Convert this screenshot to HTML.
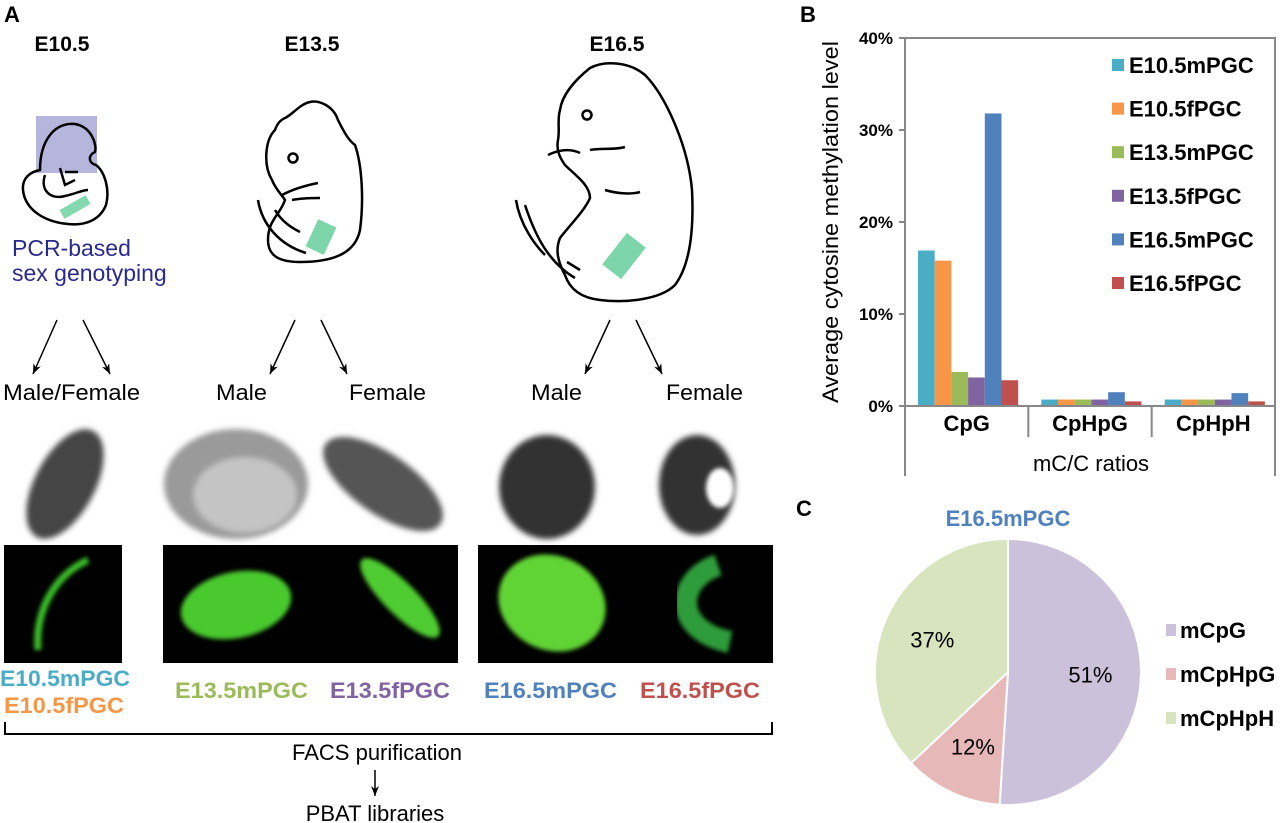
<!DOCTYPE html>
<html><head><meta charset="utf-8"><style>
body{margin:0;background:#fff;width:1280px;height:823px;overflow:hidden;font-family:"Liberation Sans",Arial,sans-serif}
svg{position:absolute;left:0;top:0}
</style></head><body>
<svg width="1280" height="823" viewBox="0 0 1280 823" font-family="Liberation Sans, Arial, sans-serif">
<defs>
<filter id="bl" x="-20%" y="-20%" width="140%" height="140%"><feGaussianBlur stdDeviation="3"/></filter>
<filter id="bl2" x="-20%" y="-20%" width="140%" height="140%"><feGaussianBlur stdDeviation="2"/></filter>
<marker id="ah" markerWidth="10" markerHeight="8" refX="10" refY="4" orient="auto" markerUnits="userSpaceOnUse"><path d="M0,0 L10,4 L0,8 L3,4z" fill="#000"/></marker>
</defs>
<!-- Panel A -->
<g>
<text x="4" y="22" font-size="22" font-weight="bold">A</text>
<text x="62" y="51" font-size="21" font-weight="bold" text-anchor="middle">E10.5</text>
<text x="312" y="51" font-size="21" font-weight="bold" text-anchor="middle">E13.5</text>
<text x="617" y="51" font-size="21" font-weight="bold" text-anchor="middle">E16.5</text>
<g>
<rect x="36" y="116" width="61" height="57" fill="#a9a9d6" opacity="0.85"/>
<path d="M40,170 C40,140 55,122 75,124 C92,127 97,145 95,152 C88,155 88,163 96,165 C105,172 110,190 106,205 C100,220 85,226 68,224 C45,222 25,210 23,190 C22,178 30,172 40,170 Z" fill="none" stroke="#000" stroke-width="2.5"/>
<path d="M45,175 C40,190 50,200 65,196 C75,194 82,190 88,190 M60,168 L65,185 L75,180 M65,172 L78,172" fill="none" stroke="#000" stroke-width="2.5"/>
<rect x="60" y="202" width="30" height="10" fill="#6fd1a0" transform="rotate(-30 75 207)" opacity="0.85"/>
</g>
<text x="12" y="256" font-size="23" fill="#2a2a8c">PCR-based</text>
<text x="12" y="281" font-size="23" fill="#2a2a8c">sex genotyping</text>
<g>
<path d="M275,130 C265,140 263,165 272,180 C276,190 282,195 285,200 C280,215 268,220 268,240 C268,255 278,262 300,262 C330,262 355,255 360,230 C364,200 362,165 355,145 C348,140 343,130 338,120 C333,105 318,100 310,102 C300,104 292,115 285,118 C280,120 277,124 275,130 Z" fill="none" stroke="#000" stroke-width="2.5"/>
<circle cx="293" cy="158" r="4.5" fill="none" stroke="#000" stroke-width="2.5"/>
<path d="M258,200 C262,225 280,245 306,253 M275,210 C282,222 292,228 300,232 M282,195 C295,188 308,185 318,183 M292,200 C302,198 312,198 320,198" fill="none" stroke="#000" stroke-width="2.5"/>
<rect x="311" y="222" width="20" height="30" fill="#6fd1a0" transform="rotate(25 321 237)" opacity="0.9"/>
</g>
<g>
<path d="M560,110 C562,95 575,80 590,68 C605,60 630,62 645,75 C665,95 688,145 692,190 C694,230 690,265 675,285 C660,300 625,303 600,300 C582,298 570,290 565,275 C558,262 555,250 560,238 C570,225 585,210 590,198 C590,185 575,175 565,165 C560,158 556,150 558,140 C560,130 557,120 560,110 Z" fill="none" stroke="#000" stroke-width="2.5"/>
<circle cx="587" cy="115" r="4.5" fill="none" stroke="#000" stroke-width="2.5"/>
<path d="M548,155 C558,150 570,148 580,153 M590,150 C600,148 615,150 625,147 M605,190 C615,193 630,195 640,192 M516,200 C520,225 535,245 545,255 M525,205 C535,235 548,262 575,278 M567,262 L580,270" fill="none" stroke="#000" stroke-width="2.5"/>
<rect x="604" y="244" width="40" height="24" fill="#6fd1a0" transform="rotate(-52 624 256)" opacity="0.9"/>
</g>
<g stroke="#000" stroke-width="1.5" fill="none">
<line x1="57" y1="320" x2="33" y2="374" marker-end="url(#ah)"/>
<line x1="83" y1="320" x2="110" y2="374" marker-end="url(#ah)"/>
<line x1="295" y1="320" x2="270" y2="374" marker-end="url(#ah)"/>
<line x1="321" y1="320" x2="347" y2="374" marker-end="url(#ah)"/>
<line x1="610" y1="320" x2="585" y2="374" marker-end="url(#ah)"/>
<line x1="636" y1="320" x2="662" y2="374" marker-end="url(#ah)"/>
</g>
<g font-size="22">
<text x="3" y="400" textLength="137" lengthAdjust="spacingAndGlyphs">Male/Female</text>
<text x="216" y="400" textLength="51" lengthAdjust="spacingAndGlyphs">Male</text>
<text x="349" y="400" textLength="77" lengthAdjust="spacingAndGlyphs">Female</text>
<text x="531" y="400" textLength="51" lengthAdjust="spacingAndGlyphs">Male</text>
<text x="666" y="400" textLength="77" lengthAdjust="spacingAndGlyphs">Female</text>
</g>
<g>
<ellipse cx="65" cy="484" rx="30" ry="60" fill="#444" transform="rotate(28 65 484)" filter="url(#bl)"/>
<ellipse cx="236" cy="484" rx="72" ry="55" fill="#9a9a9a" filter="url(#bl)"/>
<ellipse cx="245" cy="495" rx="52" ry="38" fill="#c4c4c4" filter="url(#bl)"/>
<ellipse cx="383" cy="484" rx="30" ry="70" fill="#555" transform="rotate(-55 383 484)" filter="url(#bl)"/>
<ellipse cx="547" cy="487" rx="48" ry="52" fill="#333" filter="url(#bl)"/>
<ellipse cx="697" cy="485" rx="38" ry="50" fill="#333" filter="url(#bl)"/>
<ellipse cx="720" cy="488" rx="14" ry="20" fill="#fff" filter="url(#bl2)"/>
</g>
<g>
<rect x="4" y="545" width="118" height="118" fill="#000"/>
<rect x="163" y="545" width="295" height="118" fill="#000"/>
<rect x="478" y="545" width="295" height="118" fill="#000"/>
<path d="M38,650 C35,610 55,575 88,560" stroke="#3bbf2a" stroke-width="7" fill="none" filter="url(#bl2)"/>
<ellipse cx="236" cy="605" rx="56" ry="33" fill="#48c92e" transform="rotate(-12 236 605)" filter="url(#bl2)"/>
<ellipse cx="400" cy="598" rx="16" ry="54" fill="#50cc32" transform="rotate(-45 400 598)" filter="url(#bl2)"/>
<ellipse cx="552" cy="603" rx="55" ry="47" fill="#60d435" transform="rotate(25 552 603)" filter="url(#bl2)"/>
<path d="M718,565 C675,580 672,630 730,642" stroke="#2f9c3a" stroke-width="22" fill="none" filter="url(#bl2)"/>
</g>
<g font-size="22" font-weight="bold">
<text x="0" y="686" fill="#4bacc6" textLength="130" lengthAdjust="spacingAndGlyphs">E10.5mPGC</text>
<text x="4" y="713" fill="#f79646" textLength="120" lengthAdjust="spacingAndGlyphs">E10.5fPGC</text>
<text x="175" y="698" fill="#9bbb59" textLength="133" lengthAdjust="spacingAndGlyphs">E13.5mPGC</text>
<text x="330" y="698" fill="#8064a2" textLength="120" lengthAdjust="spacingAndGlyphs">E13.5fPGC</text>
<text x="484" y="698" fill="#4f81bd" textLength="133" lengthAdjust="spacingAndGlyphs">E16.5mPGC</text>
<text x="640" y="698" fill="#c0504d" textLength="120" lengthAdjust="spacingAndGlyphs">E16.5fPGC</text>
</g>
<path d="M5,722 V734 H772 V722" fill="none" stroke="#000" stroke-width="2"/>
<text x="377" y="760" font-size="22" text-anchor="middle">FACS purification</text>
<line x1="375" y1="770" x2="375" y2="796" stroke="#000" stroke-width="1.5" marker-end="url(#ah)"/>
<text x="375" y="821" font-size="22" text-anchor="middle">PBAT libraries</text>
</g>
<!-- Panel B -->
<text x="800" y="22" font-size="22" font-weight="bold">B</text>
<g id="barchart"></g>
<!-- Panel C -->
<text x="796" y="516" font-size="22" font-weight="bold">C</text>
<text x="1008" y="526" font-size="22" font-weight="bold" fill="#4f81bd" text-anchor="middle">E16.5mPGC</text>
<g id="piechart"></g>
</svg>
<script>
const categories = ["CpG", "CpHpG", "CpHpH"];
const seriesNames = ["E10.5mPGC", "E10.5fPGC", "E13.5mPGC", "E13.5fPGC", "E16.5mPGC", "E16.5fPGC"];
const seriesColors = ["#4bacc6", "#f79646", "#9bbb59", "#8064a2", "#4f81bd", "#c0504d"];
const valuesCpG = [16.9, 15.8, 3.7, 3.1, 31.8, 2.8];
const valuesCpHpG = [0.7, 0.7, 0.7, 0.7, 1.5, 0.5];
const valuesCpHpH = [0.7, 0.7, 0.7, 0.7, 1.4, 0.5];
const yTicks = [0, 10, 20, 30, 40];
const pieLabels = ["mCpG", "mCpHpG", "mCpHpH"];
const pieValues = [51, 12, 37];
const pieColors = ["#ccc1da", "#e6b9b8", "#d7e4bd"];

const NS = "http://www.w3.org/2000/svg";
function mk(parent, tag, attrs, text) {
  const e = document.createElementNS(NS, tag);
  for (const k in attrs) e.setAttribute(k, attrs[k]);
  if (text !== undefined) e.textContent = text;
  parent.appendChild(e);
  return e;
}
const g = document.getElementById("barchart");
const X0 = 905, X1 = 1275, Y0 = 406, Ytop = 38, Ymax = 40;
const y = v => Y0 - (v / Ymax) * (Y0 - Ytop);
const groupW = (X1 - X0) / categories.length;
const barW = 16.7, offset = 13;
const allVals = [valuesCpG, valuesCpHpG, valuesCpHpH];

yTicks.forEach(t => {
  const tl = mk(g, "text", {x: 893, y: y(t) + 6, "font-size": 17, "font-weight": "bold", "text-anchor": "end"}, t + "%");
  
  
  const tk = mk(g, "line", {x1: 899, x2: 905, y1: y(t), y2: y(t), stroke: "#888", "stroke-width": 2});
  
  
});
categories.forEach((c, ci) => {
  allVals[ci].forEach((v, si) => {
    const bx = X0 + ci * groupW + offset + si * barW;
    const r = mk(g, "rect", {x: bx, y: y(v), width: barW, height: Y0 - y(v), fill: seriesColors[si]});
    
    
  });
  const cl = mk(g, "text", {x: X0 + (ci + 0.5) * groupW, y: 431, "font-size": 22, "font-weight": "bold", "text-anchor": "middle"}, c);
  
  
  if (ci > 0) {
    const sep = mk(g, "line", {x1: X0 + ci * groupW, x2: X0 + ci * groupW, y1: Y0, y2: 437, stroke: "#888", "stroke-width": 2});
    
    
  }
});
const frame = mk(g, "path", {d: `M${X0},476 V${Ytop} H${X1} V476`, fill: "none", stroke: "#888", "stroke-width": 2});


const xa = mk(g, "line", {x1: X0, x2: X1, y1: Y0, y2: Y0, stroke: "#888", "stroke-width": 2});


const xt = mk(g, "text", {x: 1091, y: 471, "font-size": 22, "text-anchor": "middle"}, "mC/C ratios");


const yt = mk(g, "text", {x: 0, y: 0, "font-size": 22, "text-anchor": "middle", textLength: 362, lengthAdjust: "spacingAndGlyphs", transform: "translate(838,222) rotate(-90)"}, "Average cytosine methylation level");


seriesNames.forEach((s, i) => {
  const ly = 65 + i * 43.6;
  const le = mk(g, "g", {});
  
  
  mk(le, "rect", {x: 1112, y: ly - 6, width: 12, height: 12, fill: seriesColors[i]});
  mk(le, "text", {x: 1129, y: ly + 8, "font-size": 22, "font-weight": "bold"}, s);
});

const pg = document.getElementById("piechart");
const cx = 1008, cy = 672, R = 133;
const total = pieValues.reduce((a, b) => a + b, 0);
let acc = 0;
pieValues.forEach((v, i) => {
  const a0 = acc / total * 2 * Math.PI, a1 = (acc + v) / total * 2 * Math.PI;
  acc += v;
  const p0 = [cx + R * Math.sin(a0), cy - R * Math.cos(a0)], p1 = [cx + R * Math.sin(a1), cy - R * Math.cos(a1)];
  const large = (a1 - a0) > Math.PI ? 1 : 0;
  const sl = mk(pg, "path", {d: `M${cx},${cy} L${p0[0]},${p0[1]} A${R},${R} 0 ${large} 1 ${p1[0]},${p1[1]} Z`, fill: pieColors[i], stroke: "#fff", "stroke-width": 2});
  
  
  const am = (a0 + a1) / 2, lr = R * 0.62;
  const lt = mk(pg, "text", {x: cx + lr * Math.sin(am), y: cy - lr * Math.cos(am) + 8, "font-size": 22, "text-anchor": "middle"}, v + "%");
  
  
  const le = mk(pg, "g", {});
  
  
  const ly = 630 + i * 44;
  mk(le, "rect", {x: 1166, y: ly - 6, width: 10, height: 12, fill: pieColors[i]});
  mk(le, "text", {x: 1180, y: ly + 8, "font-size": 22, "font-weight": "bold"}, pieLabels[i]);
});
</script>
</body></html>
